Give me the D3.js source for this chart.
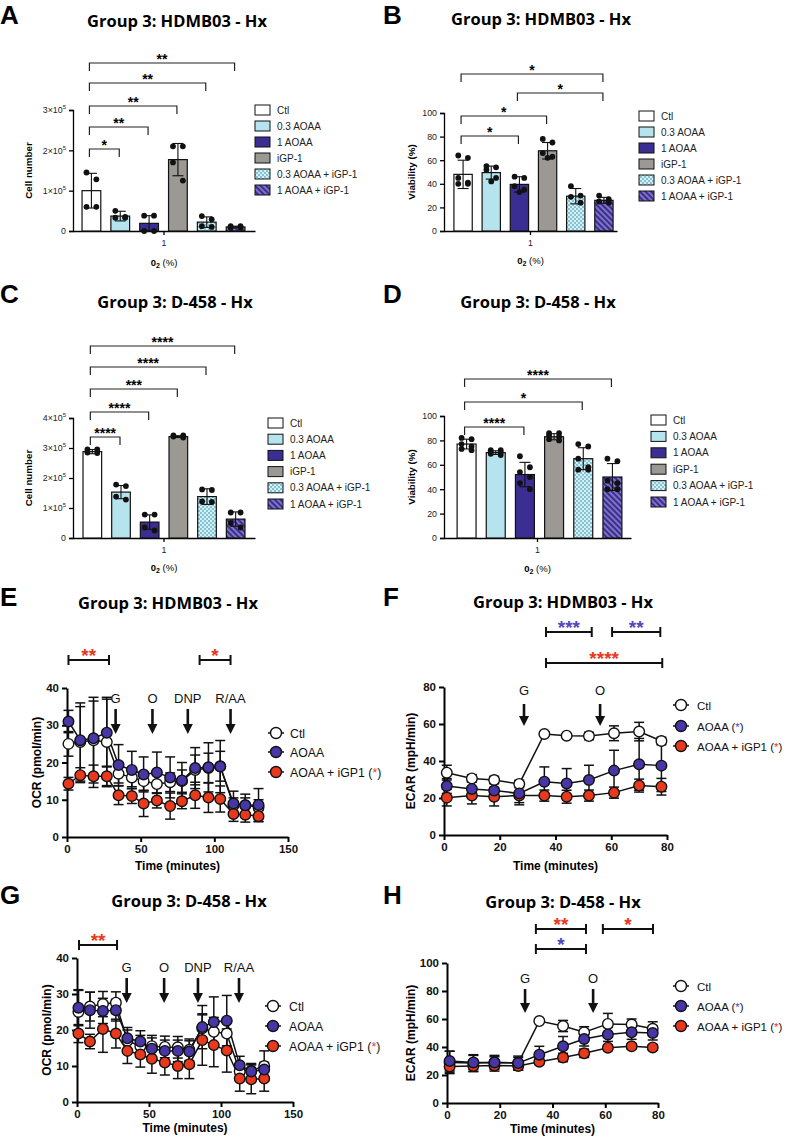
<!DOCTYPE html>
<html><head><meta charset="utf-8">
<script src="https://cdn.jsdelivr.net/npm/d3@7"></script>
<style>body{margin:0;background:#fff}svg{display:block}</style>
</head><body><svg id="c" width="788" height="1137"></svg>
<script>
// ---------------- DATA ----------------
const barCats = ["Ctl","0.3 AOAA","1 AOAA","iGP-1","0.3 AOAA + iGP-1","1 AOAA + iGP-1"];
const o2Cats = ["1"];

const aMean = [1.0e5,0.37e5,0.19e5,1.77e5,0.22e5,0.10e5];
const aSD   = [0.43e5,0.12e5,0.19e5,0.40e5,0.13e5,0.02e5];
const aDots = [[1.45e5,1.28e5,0.6e5,0.6e5],[0.5e5,0.33e5,0.33e5,0.35e5],[0.38e5,0.38e5,0.0,0.0],
               [2.1e5,2.1e5,1.7e5,1.25e5],[0.37e5,0.29e5,0.12e5,0.10e5],[0.12e5,0.12e5,0.08e5,0.08e5]];
const aTicks = [0,1e5,2e5,3e5];
const aSig = [[0,1,"*"],[0,2,"**"],[0,3,"**"],[0,4,"**"],[0,5,"**"]];

const bMean = [48,49.5,39.5,68,29.5,26];
const bSD   = [12,5.5,6.5,7,6.5,2.5];
const bDots = [[62,64,45,41,40,40],[55,54,52,45,42],[46,45,38,35,33],[78,75,66,63,62],[38,30,29,24],[30,27,25,24]];
const bTicks = [0,20,40,60,80,100];
const bSig = [[0,2,"*"],[0,3,"*"],[2,5,"*"],[0,5,"*"]];

const cMean = [2.88e5,1.53e5,0.53e5,3.38e5,1.38e5,0.63e5];
const cSD   = [0.07e5,0.22e5,0.24e5,0.03e5,0.26e5,0.24e5];
const cDots = [[2.95e5,2.95e5,2.85e5,2.83e5],[1.78e5,1.73e5,1.38e5,1.28e5],[0.78e5,0.78e5,0.35e5,0.25e5],
               [3.42e5,3.42e5,3.38e5,3.35e5],[1.62e5,1.6e5,1.22e5,1.2e5],[0.85e5,0.85e5,0.5e5,0.35e5]];
const cTicks = [0,1e5,2e5,3e5,4e5];
const cSig = [[0,1,"****"],[0,2,"****"],[0,3,"***"],[0,4,"****"],[0,5,"****"]];

const dMean = [77,70,52,83,65,50];
const dSD   = [4,1.5,10,2.5,9,11];
const dDots = [[82,81,77,75,72,73],[72,72,71,70,69,68],[67,58,54,50,45,40],[86,86,84,83,81,80],[77,75,65,58,56,56],[65,63,47,45,40,40]];
const dTicks = [0,20,40,60,80,100];
const dSig = [[0,2,"****"],[0,4,"*"],[0,5,"****"]];

const seriesNames = ["Ctl","AOAA","AOAA + iGP1"];

const tE = [1,9,18,27,35,44,52,61,70,78,87,96,104,113,121,130];
const eCtl  = [25,25.5,26,25.5,17,16,15,14.2,14.7,15,18,18.5,19,8.5,8.5,8];
const eAOAA = [31,26,26.5,28,19.3,18,16.8,17.3,16,15.2,18.5,18.7,18.9,9,8.5,8.6];
const eIGP  = [14.3,16.6,16.3,16.3,11.2,11,9,9.8,8.3,9.6,11.2,10.6,10.2,6.2,6,5.6];
const eCtlSD  = [3.3,10.5,11.5,12,2.5,2.5,2.5,2.5,2.5,3,4,4,4,2,2,2];
const eAOAASD = [3,9,10,9,5.5,5,4.7,5.5,5.5,4.8,5.5,6.6,7,3.3,3,4.4];
const eIGPSD  = [1.7,2,3,2.5,2.5,2,3.5,2,3.5,2,3.5,4,3.5,2,2,1.5];
const eArrowLabels = ["G","O","DNP","R/AA"];
const eArrowTimes = [33,58,82,111];
const eSig = [[1,28.5,"**","red"],[90,111,"*","red"]];

const tF = [1,10,18,27,36,44,52,61,70,78];
const fCtl  = [33.7,30.6,29.7,27.6,54.6,53.7,53.5,55,55.9,50.8];
const fAOAA = [26.5,24.9,24,22.5,28.8,27.9,29.7,34.8,38.2,37.5];
const fIGP  = [20.2,21.3,20.7,21.3,21.3,20.7,21.3,22.9,26.7,26.1];
const fCtlSD  = [4,2,2,2,1,1,2,4,5,2];
const fAOAASD = [4,4,4,5,8,8,8,11,14,14];
const fIGPSD  = [4.5,4.5,5,5,3,3.5,3,3,3.5,4.5];
const fArrowLabels = ["G","O"];
const fArrowTimes = [28.7,56];
const fSig = [[36.6,53,"***","blue"],[60.3,77.6,"**","blue"],[36.6,78.3,"****","red"]];

const tG = [1,9,18,27,35,44,52,61,70,78,87,95,104,113,121,130];
const gCtl  = [25,26.5,27.2,27.6,17,15.5,15.5,15.3,15.2,14.5,20.5,19.5,19,8.5,8.7,10];
const gAOAA = [26.2,25.5,25.3,25.5,17.7,16.8,14.8,14.2,14.2,14,20.8,22.2,22.6,10.2,8.5,9];
const gIGP  = [19,16.8,20.3,19,14.2,13.2,12,11,10,10.5,17.2,15.8,14.3,6.5,6.3,6.5];
const gCtlSD  = [6,4,3.5,3,3,3,3,3,3,3,4,4,4,2,2,4.2];
const gAOAASD = [5,5,3.5,3,3,3,3,3,3,3,6,7,7,2.5,2,2];
const gIGPSD  = [2.5,2,6.5,4,3.5,3.5,4,3.5,3.5,4,7,6,6,3.5,4,3.5];
const gArrowLabels = ["G","O","DNP","R/AA"];
const gArrowTimes = [34.5,60.5,84,112.5];
const gSig = [[1.4,27.8,"**","red"]];

const tH = [1,10,18,27,35,44,52,61,70,78];
const hCtl  = [29,28.5,29,28.5,58.5,55,50.5,56.5,56,53];
const hAOAA = [30,29,29,28.5,34.5,40.5,45.7,49,50.5,50];
const hIGP  = [26,26.5,26.8,26.5,29.5,32.5,35.5,39.5,40.5,39.7];
const hCtlSD  = [8,6,5,5,1,4,4,7.5,4,5];
const hAOAASD = [7,5,4,4,6,7,5,5,5,5];
const hIGPSD  = [4,4,4,3,2,3,3,2,2,2];
const hArrowLabels = ["G","O"];
const hArrowTimes = [29.6,55.4];
const hSig = [[33.7,52.7,"**","red"],[59.1,78.1,"*","red"],[33.7,52.7,"*","blue"]];

// ---------------- STYLE ----------------
const RED = "#e8391d", BLUE_M = "#4636a6", BLUE_S = "#5446bf";
const barFills = ["#ffffff","#b6e4ee","#3b2e93","#9c9894","url(#chk)","url(#str)"];
const FONT = "'Liberation Sans', Arial, sans-serif";
const TFONT = "'Open Sans', 'Liberation Sans', sans-serif";

const svg = d3.select("#c");
const defs = svg.append("defs");
const chk = defs.append("pattern").attr("id","chk").attr("width",4).attr("height",4).attr("patternUnits","userSpaceOnUse");
chk.append("rect").attr("width",4).attr("height",4).attr("fill","#d3f0f6");
chk.append("rect").attr("width",2).attr("height",2).attr("fill","#86c2d0");
chk.append("rect").attr("x",2).attr("y",2).attr("width",2).attr("height",2).attr("fill","#86c2d0");
const str = defs.append("pattern").attr("id","str").attr("width",4).attr("height",4).attr("patternUnits","userSpaceOnUse").attr("patternTransform","rotate(-45)");
str.append("rect").attr("width",4).attr("height",4).attr("fill","#7d73bf");
str.append("rect").attr("width",2).attr("height",4).attr("fill","#3b2e93");

function letter(ch,x,y){
  svg.append("text").attr("x",x).attr("y",y).attr("font-family",FONT).attr("font-weight",700)
    .attr("font-size",26).text(ch);
}
function title(t,x,y){
  svg.append("text").attr("x",x).attr("y",y).attr("text-anchor","middle").attr("font-family",TFONT)
    .attr("font-weight",700).attr("font-size",16.5).text(t);
}

// ---------------- BAR PANEL ----------------
function barPanel(c){
  const g = svg.append("g");
  const y = d3.scaleLinear().domain([0,c.yMax]).range([c.y0,c.y1]);
  const x = d3.scaleBand().domain(barCats).range(c.band).paddingInner(0.35).paddingOuter(0.175);
  const xo = d3.scaleBand().domain(o2Cats).range([c.x0,c.x1]);
  const ya = g.append("g").attr("transform",`translate(${c.x0},0)`)
    .call(d3.axisLeft(y).tickValues(c.ticks).tickSize(4).tickPadding(3).tickFormat(c.sci?(()=>""):d3.format("d")));
  ya.select(".domain").attr("stroke-width",1.3);
  ya.selectAll(".tick line").attr("stroke-width",1.3);
  ya.selectAll("text").attr("font-family",FONT).attr("font-size",8.8).attr("fill","#222");
  if(c.sci){
    ya.selectAll(".tick text").each(function(d){
      const t = d3.select(this);
      if(d===0){ t.text("0"); return; }
      t.text(null);
      t.append("tspan").text((d/1e5)+"×10");
      t.append("tspan").attr("dy",-4).attr("font-size",6).text("5");
    });
  }
  const xa = g.append("g").attr("transform",`translate(0,${c.y0})`)
    .call(d3.axisBottom(xo).tickSize(4).tickPadding(5).tickSizeOuter(0));
  xa.select(".domain").attr("stroke-width",1.3);
  xa.selectAll(".tick line").attr("stroke-width",1.3);
  xa.selectAll("text").attr("font-family",FONT).attr("font-size",8.8).attr("fill","#222");
  g.selectAll(".bar").data(c.mean).join("rect")
    .attr("x",(d,i)=>x(barCats[i])).attr("width",x.bandwidth())
    .attr("y",d=>y(d)).attr("height",d=>c.y0-y(d))
    .attr("fill",(d,i)=>barFills[i]).attr("stroke","#111").attr("stroke-width",1.2);
  c.mean.forEach((m,i)=>{
    const cx = x(barCats[i])+x.bandwidth()/2;
    const lo = y(Math.max(0,m-c.sd[i])), hi = y(m+c.sd[i]);
    g.append("line").attr("x1",cx).attr("x2",cx).attr("y1",lo).attr("y2",hi).attr("stroke","#111").attr("stroke-width",1.1);
    [lo,hi].forEach(v=>g.append("line").attr("x1",cx-5.5).attr("x2",cx+5.5).attr("y1",v).attr("y2",v).attr("stroke","#111").attr("stroke-width",1.1));
    const pts = c.dots[i].slice().sort((a,b)=>b-a);
    const offs = [-5,5,-5,5,0,0];
    pts.forEach((v,j)=>{
      const ox = pts.length%2===1 && j===pts.length-1 ? 0 : offs[j%4];
      g.append("circle").attr("cx",cx+ox*(x.bandwidth()/19)).attr("cy",y(v)).attr("r",2.9).attr("fill","#111");
    });
  });
  c.sig.forEach((s,k)=>{
    const xa1 = x(barCats[s[0]])+x.bandwidth()/2-2, xa2 = x(barCats[s[1]])+x.bandwidth()/2-1;
    const ly = c.sigY[k];
    g.append("path").attr("d",`M${xa1},${ly+8}V${ly}H${xa2}V${ly+8}`).attr("fill","none").attr("stroke","#222").attr("stroke-width",1.2);
    g.append("text").attr("x",(xa1+xa2)/2).attr("y",ly+1).attr("text-anchor","middle")
      .attr("font-family",FONT).attr("font-weight",700).attr("font-size",14).text(s[2]);
  });
  g.append("text").attr("transform",`translate(${c.ylx},${(c.y0+c.y1)/2}) rotate(-90)`).attr("text-anchor","middle")
    .attr("font-family",FONT).attr("font-weight",700).attr("font-size",9.8).text(c.ylabel);
  const xt = g.append("text").attr("x",xo("1")+xo.bandwidth()/2).attr("y",c.xty).attr("text-anchor","middle")
    .attr("font-family",FONT).attr("font-size",9.5);
  xt.append("tspan").attr("font-weight",700).text("0");
  xt.append("tspan").attr("font-weight",700).attr("font-size",7).attr("dy",2).text("2");
  xt.append("tspan").attr("dy",-2).text(" (%)");
  barCats.forEach((cat,i)=>{
    const ly = c.legY + i*c.legDy;
    g.append("rect").attr("x",c.legX).attr("y",ly-5).attr("width",15).attr("height",10)
      .attr("fill",barFills[i]).attr("stroke","#111").attr("stroke-width",1);
    g.append("text").attr("x",c.legX+22).attr("y",ly+3.5).attr("font-family",FONT).attr("font-size",10).attr("fill","#222").text(cat);
  });
}

// ---------------- LINE PANEL ----------------
function linePanel(c){
  const g = svg.append("g");
  const x = d3.scaleLinear().domain([0,c.xMax]).range([c.x0,c.x1]);
  const y = d3.scaleLinear().domain([0,c.yMax]).range([c.y0,c.y1]);
  const xa = g.append("g").attr("transform",`translate(0,${c.y0})`)
    .call(d3.axisBottom(x).tickValues(c.xTicks).tickSize(5).tickPadding(3).tickSizeOuter(0));
  const ya = g.append("g").attr("transform",`translate(${c.x0},0)`)
    .call(d3.axisLeft(y).tickValues(c.yTicks).tickSize(5).tickPadding(3).tickSizeOuter(0));
  [xa,ya].forEach(a=>{
    a.select(".domain").attr("stroke-width",2);
    a.selectAll(".tick line").attr("stroke-width",2);
    a.selectAll("text").attr("font-family",FONT).attr("font-weight",700).attr("font-size",11.5).attr("fill","#111");
  });
  g.append("text").attr("x",(c.x0+c.x1)/2).attr("y",c.xty).attr("text-anchor","middle")
    .attr("font-family",FONT).attr("font-weight",700).attr("font-size",12).text("Time (minutes)");
  g.append("text").attr("transform",`translate(${c.ylx},${(c.y0+c.y1)/2}) rotate(-90)`).attr("text-anchor","middle")
    .attr("font-family",FONT).attr("font-weight",700).attr("font-size",12).text(c.ylabel);

  const styles = [{fill:"#fff"},{fill:BLUE_M},{fill:RED}];
  c.series.forEach((s,si)=>{
    s.m.forEach((m,i)=>{
      const cx = x(c.t[i]);
      const lo = y(Math.max(0,m-s.sd[i])), hi = y(m+s.sd[i]);
      g.append("line").attr("x1",cx).attr("x2",cx).attr("y1",lo).attr("y2",hi).attr("stroke","#111").attr("stroke-width",1.5);
      [lo,hi].forEach(v=>g.append("line").attr("x1",cx-5).attr("x2",cx+5).attr("y1",v).attr("y2",v).attr("stroke","#111").attr("stroke-width",1.5));
    });
  });
  const line = d3.line().x((d,i)=>x(c.t[i])).y(d=>y(d));
  c.series.forEach(s=>{
    g.append("path").attr("d",line(s.m)).attr("fill","none").attr("stroke","#111").attr("stroke-width",1.5);
  });
  [0,2,1].forEach(si=>{
    const s = c.series[si];
    g.selectAll(null).data(s.m).join("circle")
      .attr("cx",(d,i)=>x(c.t[i])).attr("cy",d=>y(d)).attr("r",5.3)
      .attr("fill",styles[si].fill).attr("stroke","#111").attr("stroke-width",1.4);
  });
  c.arrowLabels.forEach((lab,i)=>{
    const ax = x(c.arrowTimes[i]);
    g.append("text").attr("x",ax).attr("y",c.arLabY).attr("text-anchor","middle")
      .attr("font-family",FONT).attr("font-size",13).attr("fill","#111").text(lab);
    g.append("line").attr("x1",ax).attr("x2",ax).attr("y1",c.arY0).attr("y2",c.arY1-8).attr("stroke","#111").attr("stroke-width",2.6);
    g.append("path").attr("d",`M${ax-5},${c.arY1-10}L${ax+5},${c.arY1-10}L${ax},${c.arY1}Z`).attr("fill","#111");
  });
  c.sig.forEach((s,k)=>{
    const x1 = x(s[0]), x2 = x(s[1]), ly = c.sigY[k];
    g.append("path").attr("d",`M${x1},${ly-5}V${ly+5}M${x1},${ly}H${x2}M${x2},${ly-5}V${ly+5}`)
      .attr("fill","none").attr("stroke","#111").attr("stroke-width",2);
    g.append("text").attr("x",(x1+x2)/2).attr("y",ly+2).attr("text-anchor","middle")
      .attr("font-family",FONT).attr("font-weight",700).attr("font-size",19)
      .attr("fill",s[3]==="red"?RED:BLUE_S).text(s[2]);
  });
  seriesNames.forEach((nm,i)=>{
    const ly = c.legY[i];
    g.append("line").attr("x1",c.legX-8).attr("x2",c.legX+8).attr("y1",ly).attr("y2",ly).attr("stroke","#111").attr("stroke-width",1.5);
    g.append("circle").attr("cx",c.legX).attr("cy",ly).attr("r",5.5).attr("fill",styles[i].fill).attr("stroke","#111").attr("stroke-width",1.4);
    const t = g.append("text").attr("x",c.legTX).attr("y",ly+4.5).attr("font-family",FONT).attr("font-size",c.legFS).attr("fill","#111");
    t.append("tspan").text(nm);
    if(c.legStar[i]){
      t.append("tspan").text(" (");
      t.append("tspan").attr("fill",c.legStar[i]==="red"?RED:BLUE_S).text("*");
      t.append("tspan").text(")");
    }
  });
}

// ---------------- DRAW ----------------
letter("A",0,24); letter("B",383,24); letter("C",0,303); letter("D",383,303);
letter("E",0,606); letter("F",383,606); letter("G",0,904); letter("H",383,904);
title("Group 3: HDMB03 - Hx",177,27);
title("Group 3: HDMB03 - Hx",541,25);
title("Group 3: D-458 - Hx",175,308);
title("Group 3: D-458 - Hx",538,308);
title("Group 3: HDMB03 - Hx",168,609);
title("Group 3: HDMB03 - Hx",563,608);
title("Group 3: D-458 - Hx",189,907);
title("Group 3: D-458 - Hx",563,908);

barPanel({x0:73,x1:255,band:[77,250],y0:231,y1:110,yMax:3e5,ticks:aTicks,sci:true,
  mean:aMean,sd:aSD,dots:aDots,sig:aSig,sigY:[149,127,106,83,63],
  ylabel:"Cell number",ylx:32,xty:266,legX:255,legY:110,legDy:16});
barPanel({x0:444,x1:617,band:[449,618],y0:231,y1:113,yMax:100,ticks:bTicks,sci:false,
  mean:bMean,sd:bSD,dots:bDots,sig:bSig,sigY:[136,116,93,74],
  ylabel:"Viability (%)",ylx:415,xty:264,legX:639,legY:116,legDy:16});
barPanel({x0:73,x1:255,band:[78,250],y0:538,y1:418,yMax:4e5,ticks:cTicks,sci:true,
  mean:cMean,sd:cSD,dots:cDots,sig:cSig,sigY:[437,412,389,367,346],
  ylabel:"Cell number",ylx:32,xty:571,legX:268,legY:423,legDy:16.2});
barPanel({x0:444,x1:631,band:[452,627],y0:538,y1:416,yMax:100,ticks:dTicks,sci:false,
  mean:dMean,sd:dSD,dots:dDots,sig:dSig,sigY:[427,402,379],
  ylabel:"Viability (%)",ylx:415,xty:572,legX:651,legY:420,legDy:16.4});

linePanel({x0:67,x1:288,xMax:150,xTicks:[0,50,100,150],y0:837,y1:688,yMax:40,yTicks:[0,10,20,30,40],
  t:tE,series:[{m:eCtl,sd:eCtlSD},{m:eAOAA,sd:eAOAASD},{m:eIGP,sd:eIGPSD}],
  arrowLabels:eArrowLabels,arrowTimes:eArrowTimes,arLabY:703,arY0:709,arY1:734,
  sig:eSig,sigY:[660,660],xty:870,ylabel:"OCR (pmol/min)",ylx:41,
  legX:276,legY:[733,752,772],legTX:290,legFS:12.3,legStar:[null,null,"red"]});
linePanel({x0:444,x1:667,xMax:80,xTicks:[0,20,40,60,80],y0:835,y1:687,yMax:80,yTicks:[0,20,40,60,80],
  t:tF,series:[{m:fCtl,sd:fCtlSD},{m:fAOAA,sd:fAOAASD},{m:fIGP,sd:fIGPSD}],
  arrowLabels:fArrowLabels,arrowTimes:fArrowTimes,arLabY:695,arY0:704,arY1:726,
  sig:fSig,sigY:[632,632,663],xty:870,ylabel:"ECAR (mpH/min)",ylx:415,
  legX:681,legY:[705,726,746],legTX:697,legFS:11.5,legStar:[null,"blue","red"]});
linePanel({x0:77,x1:293,xMax:150,xTicks:[0,50,100,150],y0:1102,y1:958,yMax:40,yTicks:[0,10,20,30,40],
  t:tG,series:[{m:gCtl,sd:gCtlSD},{m:gAOAA,sd:gAOAASD},{m:gIGP,sd:gIGPSD}],
  arrowLabels:gArrowLabels,arrowTimes:gArrowTimes,arLabY:972,arY0:978,arY1:1003,
  sig:gSig,sigY:[945],xty:1132,ylabel:"OCR (pmol/min)",ylx:51,
  legX:273,legY:[1006,1026,1046],legTX:289,legFS:12.3,legStar:[null,null,"red"]});
linePanel({x0:447,x1:658,xMax:80,xTicks:[0,20,40,60,80],y0:1103,y1:963,yMax:100,yTicks:[0,20,40,60,80,100],
  t:tH,series:[{m:hCtl,sd:hCtlSD},{m:hAOAA,sd:hAOAASD},{m:hIGP,sd:hIGPSD}],
  arrowLabels:hArrowLabels,arrowTimes:hArrowTimes,arLabY:983,arY0:989,arY1:1013,
  sig:hSig,sigY:[929,929,949],xty:1133,ylabel:"ECAR (mpH/min)",ylx:415,
  legX:681,legY:[986,1006,1026],legTX:697,legFS:11.5,legStar:[null,"blue","red"]});
</script></body></html>
